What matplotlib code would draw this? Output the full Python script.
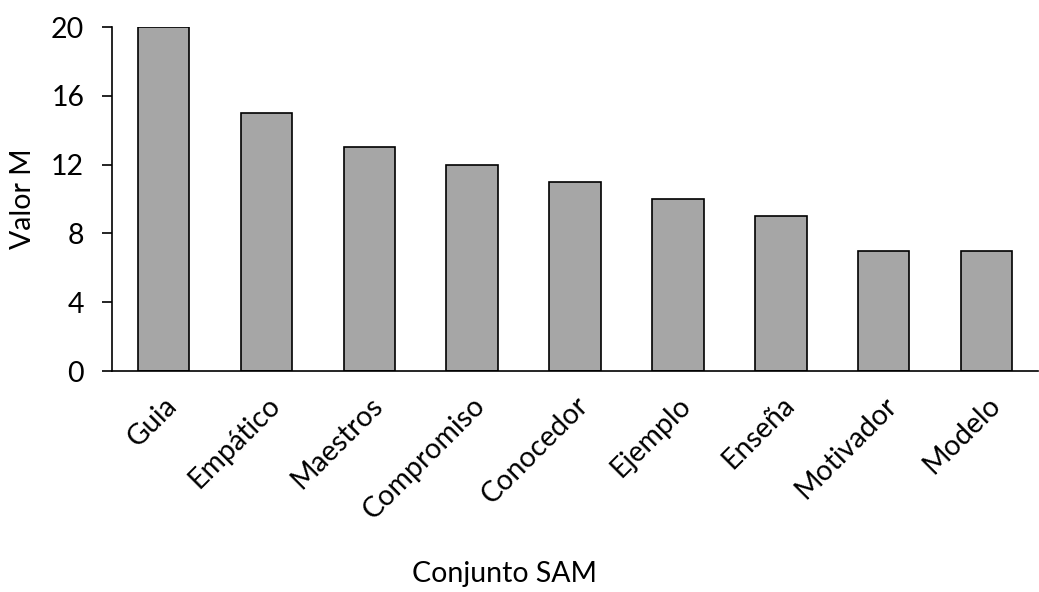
import matplotlib
matplotlib.use("Agg")
import matplotlib.pyplot as plt

categories = ["Guia", "Empático", "Maestros", "Compromiso", "Conocedor",
              "Ejemplo", "Enseña", "Motivador", "Modelo"]
values = [20, 15, 13, 12, 11, 10, 9, 7, 7]
yticks = [0, 4, 8, 12, 16, 20]

plt.rcParams['font.family'] = ['Lato', 'DejaVu Sans']
FS = 20.5

fig = plt.figure(figsize=(10.39, 5.92), dpi=100)
ax = fig.add_axes([112/1039, 1 - 371/592, (1038-112)/1039, (371-27)/592])

x = list(range(len(categories)))
ax.bar(x, values, width=0.5, color="#A6A6A6", edgecolor="black", linewidth=1.2)
ax.set_xlim(-0.5, len(categories) - 0.5)
ax.set_ylim(0, 20)
ax.set_yticks(yticks)
ax.set_yticklabels([str(t) for t in yticks], fontsize=FS)
ax.tick_params(axis='y', direction='out', length=7, width=1.2, pad=13)
ax.tick_params(axis='x', length=0, pad=15)
ax.set_xticks(x)
ax.set_xticklabels(categories, rotation=45, ha='right', rotation_mode='anchor', fontsize=FS)
for s in ['top', 'right']:
    ax.spines[s].set_visible(False)
ax.spines['left'].set_linewidth(1.2)
ax.spines['bottom'].set_linewidth(1.2)

fig.text(23/1039, 1 - 199/592, "Valor M", rotation=90, ha='center', va='center', fontsize=FS)
fig.text(505/1039, 1 - 574/592, "Conjunto SAM", ha='center', va='center', fontsize=FS)

fig.savefig("out.png", dpi=100)
